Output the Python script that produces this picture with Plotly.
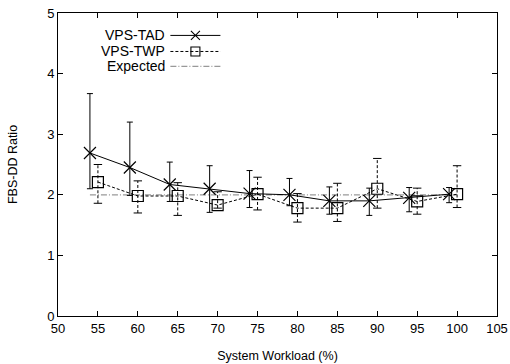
import plotly.graph_objects as go

# ---- data ----
tad_x = [54, 59, 64, 69, 74, 79, 84, 89, 94, 99]
tad_y = [2.69, 2.45, 2.17, 2.10, 2.02, 2.00, 1.90, 1.90, 1.95, 2.01]
tad_hi = [3.67, 3.20, 2.54, 2.48, 2.40, 2.27, 2.13, 2.11, 2.12, 2.12]
tad_lo = [2.10, 1.99, 1.89, 1.71, 1.79, 1.82, 1.68, 1.66, 1.72, 1.87]

twp_x = [55, 60, 65, 70, 75, 80, 85, 90, 95, 100]
twp_y = [2.21, 1.98, 1.98, 1.83, 2.01, 1.78, 1.78, 2.10, 1.89, 2.01]
twp_hi = [2.50, 2.23, 2.20, 2.05, 2.29, 2.02, 2.19, 2.60, 2.11, 2.48]
twp_lo = [1.86, 1.70, 1.66, 1.78, 1.75, 1.55, 1.56, 1.78, 1.68, 1.79]

exp_x = [54, 100]
exp_y = [2.0, 2.0]

x_ticks = [50, 55, 60, 65, 70, 75, 80, 85, 90, 95, 100, 105]
y_ticks = [0, 1, 2, 3, 4, 5]

names = ["VPS-TAD", "VPS-TWP", "Expected"]

FONT = "Liberation Sans, Arial, sans-serif"
fig = go.Figure()

# Expected line
fig.add_trace(go.Scatter(x=exp_x, y=exp_y, mode="lines",
                         line=dict(color="#999999", width=1.2, dash="6px,2px,1px,2px"),
                         showlegend=False, hoverinfo="skip"))

# TWP dashed error bars
eb_x, eb_y = [], []
for x, lo, hi in zip(twp_x, twp_lo, twp_hi):
    eb_x += [x, x, None]
    eb_y += [lo, hi, None]
fig.add_trace(go.Scatter(x=eb_x, y=eb_y, mode="lines",
                         line=dict(color="black", width=1, dash="3px,2px"),
                         showlegend=False, hoverinfo="skip"))
fig.add_trace(go.Scatter(x=twp_x + twp_x, y=twp_lo + twp_hi, mode="markers",
                         marker=dict(symbol="line-ew-open", size=6, color="black",
                                     line=dict(color="black", width=1)),
                         showlegend=False, hoverinfo="skip"))

# TWP series
fig.add_trace(go.Scatter(x=twp_x, y=twp_y, mode="lines+markers",
                         line=dict(color="black", width=1, dash="3px,2px"),
                         marker=dict(symbol="square-open", size=11, color="black",
                                     line=dict(color="black", width=1.2)),
                         showlegend=False))

# TAD series with solid error bars
fig.add_trace(go.Scatter(x=tad_x, y=tad_y, mode="lines+markers",
                         line=dict(color="black", width=1),
                         marker=dict(symbol="x-thin-open", size=12, color="black",
                                     line=dict(color="black", width=1.2)),
                         error_y=dict(type="data", symmetric=False,
                                      array=[h - v for h, v in zip(tad_hi, tad_y)],
                                      arrayminus=[v - l for l, v in zip(tad_lo, tad_y)],
                                      color="black", thickness=1, width=3),
                         showlegend=False))

# ---- manual gnuplot-style key (overlay axis in [0,1]) ----
key_rows = [0.926, 0.873, 0.824]
key_x0, key_x1, key_xm = 0.256, 0.37, 0.313
styles = [
    dict(color="black", width=1),
    dict(color="black", width=1, dash="3px,2px"),
    dict(color="#999999", width=1.2, dash="6px,2px,1px,2px"),
]
symbols = ["x-thin-open", "square-open", None]
for name, yk, st, sym in zip(names, key_rows, styles, symbols):
    fig.add_trace(go.Scatter(x=[key_x0, key_x1], y=[yk, yk], mode="lines",
                             line=st, xaxis="x2", yaxis="y2",
                             showlegend=False, hoverinfo="skip"))
    if sym:
        fig.add_trace(go.Scatter(x=[key_xm], y=[yk], mode="markers",
                                 marker=dict(symbol=sym, size=9, color="black",
                                             line=dict(color="black", width=1.1)),
                                 xaxis="x2", yaxis="y2",
                                 showlegend=False, hoverinfo="skip"))
    fig.add_annotation(x=key_x0 - 0.008, y=yk, xref="x2", yref="y2", text=name,
                       showarrow=False, xanchor="right", yanchor="middle",
                       font=dict(family=FONT, size=14, color="black"))

axis_common = dict(showgrid=False, zeroline=False, showline=True, linecolor="black",
                   linewidth=1, mirror="ticks", ticks="inside", ticklen=5,
                   tickcolor="black", tickwidth=1, automargin=False,
                   tickfont=dict(family=FONT, size=13, color="black"))

fig.update_layout(
    width=510, height=364,
    margin=dict(l=57.5, r=13, t=13, b=48),
    paper_bgcolor="white", plot_bgcolor="white",
    showlegend=False,
    xaxis=dict(range=[50, 105], tickvals=x_ticks,
               title=dict(text="System Workload (%)", standoff=16,
                          font=dict(family=FONT, size=12.5, color="black")),
               **axis_common),
    yaxis=dict(range=[0, 5], tickvals=y_ticks,
               title=dict(text="FBS-DD Ratio", standoff=26,
                          font=dict(family=FONT, size=12.5, color="black")),
               **axis_common),
    xaxis2=dict(overlaying="x", range=[0, 1], visible=False, automargin=False),
    yaxis2=dict(overlaying="y", range=[0, 1], visible=False, automargin=False),
)

fig.write_html("out.html", config={"displayModeBar": False},
               post_script="document.body.style.margin='0';document.body.style.padding='0';")
